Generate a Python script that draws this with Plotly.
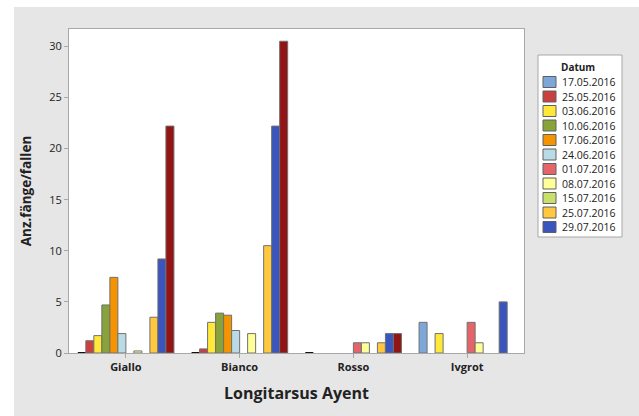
import plotly.graph_objects as go

sites = ["Giallo", "Bianco", "Rosso", "Ivgrot"]
dates = ["17.05.2016", "25.05.2016", "03.06.2016", "10.06.2016", "17.06.2016",
         "24.06.2016", "01.07.2016", "08.07.2016", "15.07.2016", "25.07.2016",
         "29.07.2016", "05.08.2016"]
colors = ["#7DA7D8", "#C8403F", "#FFE83A", "#87A33A", "#F59400", "#B9DBE6",
          "#E5646A", "#FFFF99", "#C8E06A", "#FFC83F", "#3A55BE", "#931414"]

v_1705 = [0, 0, 0, 3.0]
v_2505 = [1.2, 0.4, None, None]
v_0306 = [1.7, 3.0, None, 1.9]
v_1006 = [4.7, 3.9, None, None]
v_1706 = [7.4, 3.7, None, None]
v_2406 = [1.9, 2.2, None, None]
v_0107 = [None, None, 1.0, 3.0]
v_0807 = [0.2, 1.9, 1.0, 1.0]
v_1507 = [None, None, None, None]
v_2507 = [3.5, 10.5, 1.0, None]
v_2907 = [9.2, 22.2, 1.9, 5.0]
v_0508 = [22.2, 30.5, 1.9, None]
series = [v_1705, v_2505, v_0306, v_1006, v_1706, v_2406,
          v_0107, v_0807, v_1507, v_2507, v_2907, v_0508]
legend_shown = 11  # last entry is cut off in the original legend

FONT = "Open Sans"
W, H = 639, 416
L, R, T, B = 69, 524, 29, 353


def pxx(p):
    return (p - L) / (R - L)


def pxy(p):
    return (B - p) / (B - T)


fig = go.Figure()
for name, vals, c in zip(dates, series, colors):
    line_cols = ["#111111" if v == 0 else "#707070" for v in vals]
    line_w = [2 if v == 0 else 1 for v in vals]
    fig.add_trace(go.Bar(x=sites, y=vals, name=name, marker_color=c,
                         marker_line=dict(color=line_cols, width=line_w),
                         showlegend=False))

shapes = [
    # grey panel, then white plot area on top of it
    dict(type="rect", xref="paper", yref="paper", layer="below",
         x0=pxx(14), x1=pxx(W + 5), y0=pxy(H + 5), y1=pxy(7),
         fillcolor="#E6E6E6", line_width=0),
    dict(type="rect", xref="paper", yref="paper", layer="below",
         x0=0, x1=1, y0=0, y1=1, fillcolor="white", line_width=0),
    # legend box
    dict(type="rect", xref="paper", yref="paper", x0=pxx(538), x1=pxx(622),
         y0=pxy(237), y1=pxy(55), fillcolor="white",
         line=dict(color="#A8A8A8", width=1)),
]
annotations = [dict(text="<b>Datum</b>", xref="paper", yref="paper",
                    x=pxx(578), y=pxy(67), xanchor="center", yanchor="middle",
                    showarrow=False, font=dict(family=FONT, size=10, color="#222"))]
for i in range(legend_shown):
    yc = 82 + i * 14.5
    shapes.append(dict(type="rect", xref="paper", yref="paper",
                       x0=pxx(543), x1=pxx(556), y0=pxy(yc + 5.5), y1=pxy(yc - 5.5),
                       fillcolor=colors[i], line=dict(color="#606060", width=1)))
    annotations.append(dict(text=dates[i], xref="paper", yref="paper",
                            x=pxx(560), y=pxy(yc), xanchor="left", yanchor="middle",
                            showarrow=False,
                            font=dict(family=FONT, size=10.5, color="#222")))

fig.update_layout(
    width=W, height=H,
    margin=dict(l=L, r=W - R, t=T, b=H - B),
    paper_bgcolor="white", plot_bgcolor="rgba(0,0,0,0)",
    font=dict(family=FONT, size=11, color="#222"),
    barmode="group", bargap=0.155, bargroupgap=0,
    shapes=shapes, annotations=annotations,
    xaxis=dict(title=dict(text="Longitarsus Ayent", standoff=14,
                          font=dict(size=16, weight="bold")),
               showline=True, mirror=True, linecolor="#A8A8A8",
               ticks="outside", ticklen=4, tickcolor="#A8A8A8",
               tickfont=dict(size=11, weight="bold"), showgrid=False),
    yaxis=dict(title=dict(text="Anz.fänge/fallen", standoff=14,
                          font=dict(size=13.5, weight="bold")),
               range=[0, 31.7], tickvals=[0, 5, 10, 15, 20, 25, 30],
               showline=True, mirror=True, linecolor="#A8A8A8",
               ticks="outside", ticklen=4, tickcolor="#A8A8A8",
               showgrid=False, zeroline=False),
)

fig.write_html("out.html", config={"displayModeBar": False},
               post_script="document.body.style.margin='0';")
